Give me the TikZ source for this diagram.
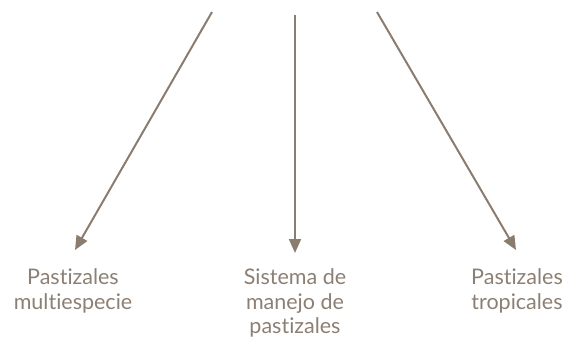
\documentclass[tikz,border=0pt]{standalone}
\usepackage{fontspec}
\setmainfont[Ligatures=NoCommon]{Lato}
\usetikzlibrary{arrows.meta}
\definecolor{arrowc}{RGB}{138,125,111}
\definecolor{textc}{RGB}{140,128,116}
\tikzset{
  lbl/.style={font=\fontsize{21.5}{24.5}\selectfont, text=textc, align=center, inner sep=0pt, anchor=base},
  conn/.style={draw=arrowc, line width=2pt, -{Triangle[length=14pt,width=12pt]}}
}
\begin{document}
\begin{tikzpicture}[x=1pt,y=-1pt]
\useasboundingbox (0,0) rectangle (576,338);
\node[lbl] (a) at (73,309) {Pastizales\\multiespecie};
\node[lbl] (b) at (295,333.5) {Sistema de\\manejo de\\pastizales};
\node[lbl] (c) at (517,309) {Pastizales\\tropicales};
\coordinate (sa) at (212,12);
\coordinate (sb) at (295,15);
\coordinate (sc) at (377,12);
\coordinate (ea) at (75,250);
\coordinate (eb) at (295,253);
\coordinate (ec) at (516,250);
\draw[conn] (sa) -- (ea);
\draw[conn] (sb) -- (eb);
\draw[conn] (sc) -- (ec);
\end{tikzpicture}
\end{document}
